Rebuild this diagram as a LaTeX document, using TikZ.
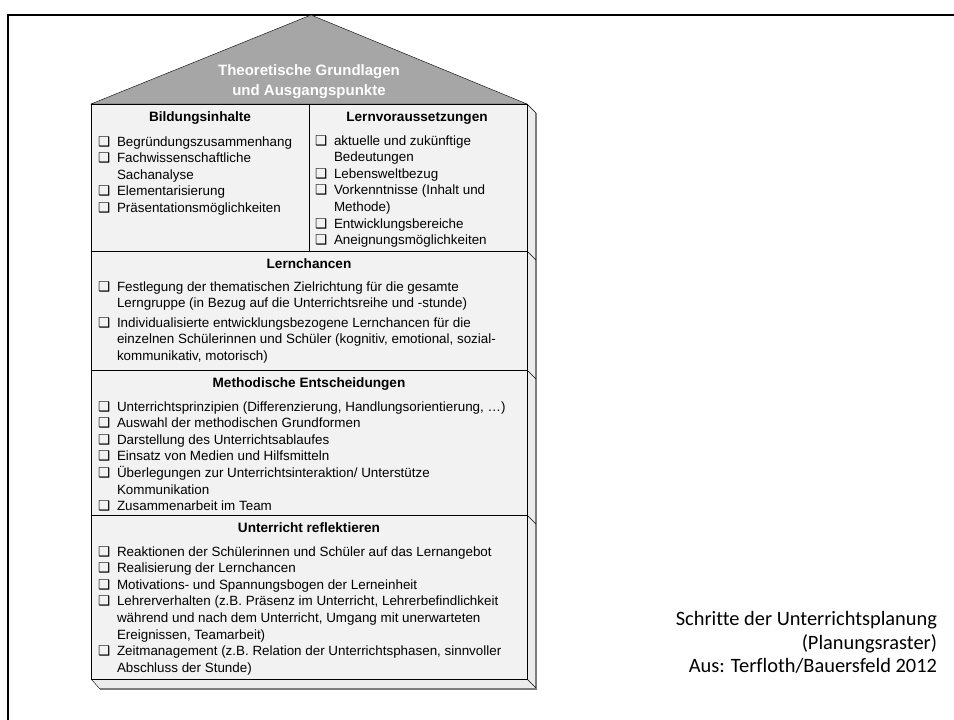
\documentclass[tikz,border=0pt]{standalone}
\usepackage{fontspec}
\setmainfont{Liberation Sans}
\newfontfamily\calfont[Ligatures=NoCommon]{Carlito}
\newfontfamily\symfont{DejaVu Sans}
\usetikzlibrary{positioning}
\definecolor{roofgray}{RGB}{166,166,166}
\definecolor{boxfill}{RGB}{242,242,242}
\definecolor{sidefill}{RGB}{236,236,236}
\definecolor{sideline}{RGB}{125,125,125}
\newcommand{\cb}{\makebox[19pt][l]{\symfont\fontsize{13.5}{13.5}\selectfont\char"2751}}
\newcommand{\ind}{\hspace*{19pt}}

\begin{document}
\begin{tikzpicture}[x=1pt,y=-1pt,every node/.style={inner sep=0pt,outer sep=0pt},
    body/.style={font=\fontsize{13.4}{16.6}\selectfont,anchor=base west},
    head/.style={font=\fontsize{13.6}{16.6}\selectfont\bfseries,anchor=base},
    captext/.style={font=\calfont\fontsize{20.4}{24}\selectfont,anchor=base east}]
    \useasboundingbox (0,0) rectangle (954,720);
    % frame
    \draw[line width=2pt] (954,15)--(8,15)--(8,720);
    % house: side faces
    \fill[sidefill] (527,104)--(536,113)--(536,689)--(100,689)--(91,679)--(527,679)--cycle;
    \draw[sideline,line width=1.2pt] (536,113)--(536,689)--(100,689);
    \foreach \y in {104,251,370,515,679} \draw (527,\y)--(536,{\y+9});
    \draw (91,679)--(100,689);
    % roof and body
    \draw[fill=roofgray] (91,104)--(311,15)--(527,104)--cycle;
    \draw[fill=boxfill] (91,104) rectangle (527,679);
    \foreach \y in {251,370,515} \draw (91,\y)--(527,\y);
    \draw (309,104)--(309,251);
    % texts
    \node[font=\fontsize{15}{19.5}\selectfont\bfseries,text=white,align=center,anchor=base] (roof) at (309,95) {Theoretische Grundlagen\\und Ausgangspunkte};
    \node[head] (bi) at (200,121) {Bildungsinhalte};
    \node[head] (lv) at (417,121) {Lernvoraussetzungen};
    \node[body] (bil) at (98,146) {\begin{tabular}[t]{@{}l@{}}
      \cb Begründungszusammenhang\\
      \cb Fachwissenschaftliche\\
      \ind Sachanalyse\\
      \cb Elementarisierung\\
      \cb Präsentationsmöglichkeiten
    \end{tabular}};
    \node[body] (lvl) at (315,145) {\begin{tabular}[t]{@{}l@{}}
      \cb aktuelle und zukünftige\\
      \ind Bedeutungen\\
      \cb Lebensweltbezug\\
      \cb Vorkenntnisse (Inhalt und\\
      \ind Methode)\\
      \cb Entwicklungsbereiche\\
      \cb Aneignungsmöglichkeiten
    \end{tabular}};
    \node[head] (lc) at (309,268) {Lernchancen};
    \node[body] (lcl) at (98,291) {\begin{tabular}[t]{@{}l@{}}
      \cb Festlegung der thematischen Zielrichtung für die gesamte\\
      \ind Lerngruppe (in Bezug auf die Unterrichtsreihe und -stunde)\\[3pt]
      \cb Individualisierte entwicklungsbezogene Lernchancen für die\\
      \ind einzelnen Schülerinnen und Schüler (kognitiv, emotional, sozial-\\
      \ind kommunikativ, motorisch)
    \end{tabular}};
    \node[head] (me) at (309,387) {Methodische Entscheidungen};
    \node[body] (mel) at (98,411) {\begin{tabular}[t]{@{}l@{}}
      \cb Unterrichtsprinzipien (Differenzierung, Handlungsorientierung, …)\\
      \cb Auswahl der methodischen Grundformen\\
      \cb Darstellung des Unterrichtsablaufes\\
      \cb Einsatz von Medien und Hilfsmitteln\\
      \cb Überlegungen zur Unterrichtsinteraktion/ Unterstütze\\
      \ind Kommunikation\\
      \cb Zusammenarbeit im Team
    \end{tabular}};
    \node[head] (ur) at (309,532) {Unterricht reflektieren};
    \node[body] (url) at (98,556) {\begin{tabular}[t]{@{}l@{}}
      \cb Reaktionen der Schülerinnen und Schüler auf das Lernangebot\\
      \cb Realisierung der Lernchancen\\
      \cb Motivations- und Spannungsbogen der Lerneinheit\\
      \cb Lehrerverhalten (z.B. Präsenz im Unterricht, Lehrerbefindlichkeit\\
      \ind während und nach dem Unterricht, Umgang mit unerwarteten\\
      \ind Ereignissen, Teamarbeit)\\
      \cb Zeitmanagement (z.B. Relation der Unterrichtsphasen, sinnvoller\\
      \ind Abschluss der Stunde)
    \end{tabular}};
    % caption
    \node[captext] (titel) at (937,625) {Schritte der Unterrichtsplanung};
    \node[captext] (raster) at (937,649) {(Planungsraster)};
    \node[captext] (quelle) at (937,672) {Aus: Terfloth/Bauersfeld 2012};
  \end{tikzpicture}
\end{document}
